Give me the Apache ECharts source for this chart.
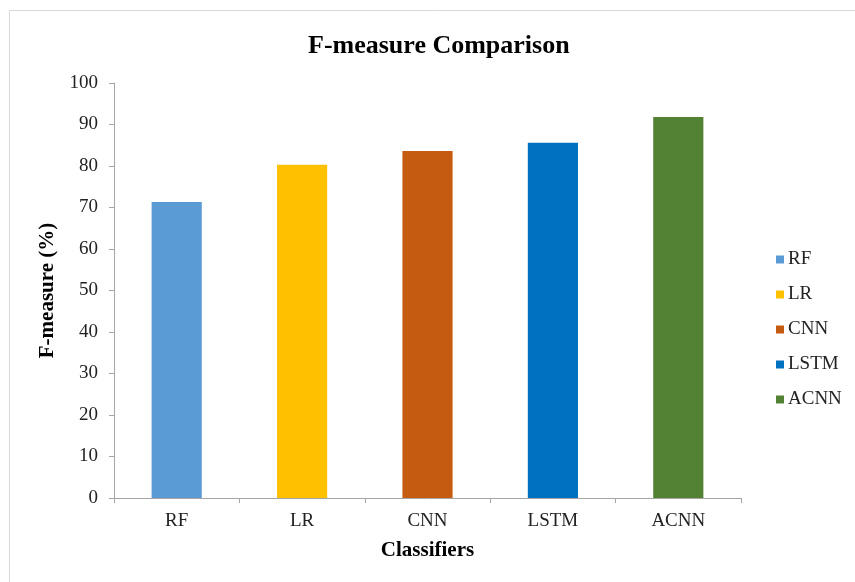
<!DOCTYPE html>
<html>
<head>
<meta charset="utf-8">
<script src="https://cdn.jsdelivr.net/npm/echarts@6/dist/echarts.min.js"></script>
<style>html,body{margin:0;padding:0;background:#fff}#c{width:855px;height:582px}</style>
</head>
<body>
<div id="c"></div>
<script>
const categories = ['RF', 'LR', 'CNN', 'LSTM', 'ACNN'];
const fmeasure = [71.3, 80.3, 83.6, 85.6, 91.8];
const colors = ['#5b9bd5', '#ffc000', '#c55a11', '#0070c0', '#548235'];
const yTicks = { min: 0, max: 100, interval: 10 };

const font = '"Liberation Serif", "Times New Roman", serif';
const chart = echarts.init(document.getElementById('c'));
const series = categories.map((name, i) => ({
  name: name,
  type: 'bar',
  stack: 'all',
  barWidth: '40%',
  itemStyle: { color: colors[i] },
  data: categories.map((c, j) => (j === i ? fmeasure[i] : '-'))
}));
chart.setOption({
  animation: false,
  backgroundColor: '#fff',
  graphic: [{
    type: 'rect',
    shape: { x: 9.5, y: 10.5, width: 860, height: 590 },
    style: { fill: 'none', stroke: '#d9d9d9', lineWidth: 1 },
    silent: true
  }],
  title: {
    text: 'F-measure Comparison',
    left: 303,
    top: 28,
    textStyle: { fontFamily: font, fontSize: 26, fontWeight: 'bold', color: '#000' }
  },
  legend: {
    orient: 'vertical',
    left: 771,
    top: 245,
    itemWidth: 8,
    itemHeight: 8,
    itemGap: 16,
    icon: 'rect',
    textStyle: { fontFamily: font, fontSize: 19, color: '#222', padding: [0, 0, 0, -1] },
    data: categories
  },
  grid: { left: 114, right: 114, top: 83, bottom: 84, containLabel: false },
  xAxis: {
    type: 'category',
    data: categories,
    name: 'Classifiers',
    nameLocation: 'middle',
    nameGap: 42,
    nameTextStyle: { fontFamily: font, fontSize: 21, fontWeight: 'bold', color: '#000' },
    axisLine: { lineStyle: { color: '#a6a6a6' } },
    axisTick: { show: true, alignWithLabel: false, length: 5, lineStyle: { color: '#a6a6a6' } },
    axisLabel: { fontFamily: font, fontSize: 19, color: '#222', margin: 14 }
  },
  yAxis: {
    type: 'value',
    min: yTicks.min,
    max: yTicks.max,
    interval: yTicks.interval,
    name: 'F-measure (%)',
    nameLocation: 'middle',
    nameGap: 56,
    nameTextStyle: { fontFamily: font, fontSize: 21, fontWeight: 'bold', color: '#000' },
    axisLine: { show: true, lineStyle: { color: '#a6a6a6' } },
    axisTick: { show: true, length: 5, lineStyle: { color: '#a6a6a6' } },
    splitLine: { show: false },
    axisLabel: { fontFamily: font, fontSize: 19, color: '#222', margin: 16 }
  },
  series: series
});
</script>
</body>
</html>
